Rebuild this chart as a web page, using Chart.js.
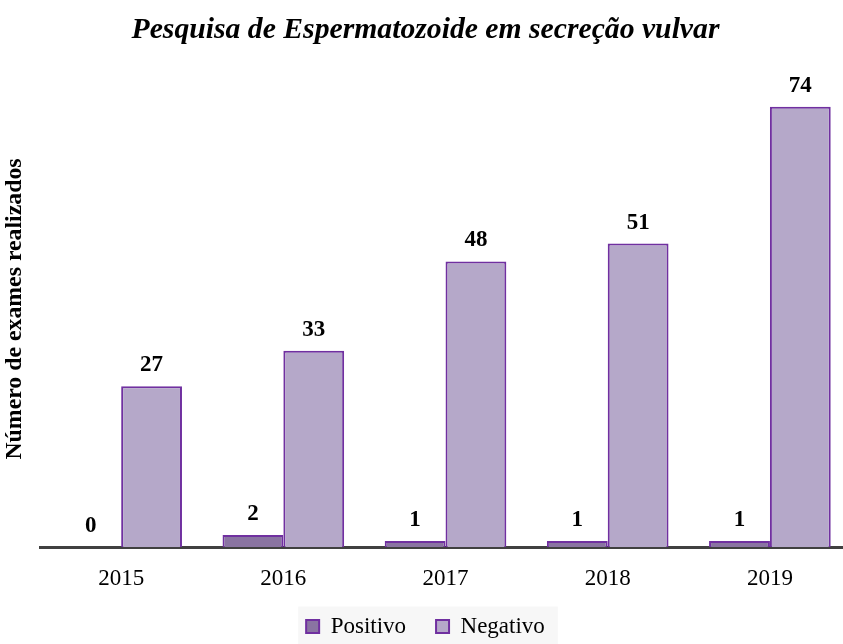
<!DOCTYPE html>
<html>
<head>
<meta charset="utf-8">
<script src="https://cdn.jsdelivr.net/npm/chart.js@4"></script>
<style>
html, body { margin: 0; padding: 0; overflow: hidden; background: #ffffff; width: 843px; height: 644px; }
#wrap { width: 856px; height: 644px; }
</style>
</head>
<body>
<div id="wrap"><canvas id="c" width="856" height="644"></canvas></div>
<script>
const categories = ['2015', '2016', '2017', '2018', '2019'];
const seriesNames = ['Positivo', 'Negativo'];
const positivo = [0, 2, 1, 1, 1];
const negativo = [27, 33, 48, 51, 74];
const titleText = 'Pesquisa de Espermatozoide em secreção vulvar';
const yTitleText = 'Número de exames realizados';

const SERIF = "'Liberation Serif', 'Times New Roman', serif";

const dataLabels = {
  id: 'dataLabels',
  afterDatasetsDraw(chart) {
    const ctx = chart.ctx;
    ctx.save();
    ctx.font = 'bold 23px ' + SERIF;
    ctx.fillStyle = '#000000';
    ctx.textAlign = 'center';
    ctx.textBaseline = 'middle';
    chart.data.datasets.forEach((ds, di) => {
      const meta = chart.getDatasetMeta(di);
      meta.data.forEach((el, i) => {
        ctx.fillText(String(ds.data[i]), el.x, el.y - 21);
      });
    });
    ctx.restore();
  }
};

const legendBg = {
  id: 'legendBg',
  beforeDraw(chart) {
    const lg = chart.legend;
    if (!lg || !lg.legendHitBoxes || !lg.legendHitBoxes.length) return;
    const boxes = lg.legendHitBoxes;
    let l = Infinity, r = -Infinity, t = Infinity;
    boxes.forEach(b => { l = Math.min(l, b.left); r = Math.max(r, b.left + b.width); t = Math.min(t, b.top); });
    const ctx = chart.ctx;
    ctx.save();
    ctx.fillStyle = '#f7f7f7';
    const top = t + 11.5 - 20;
    ctx.fillRect(l - 8, top, (r - l) + 21, chart.height - top);
    ctx.restore();
  }
};

new Chart(document.getElementById('c'), {
  type: 'bar',
  data: {
    labels: categories,
    datasets: [
      {
        label: seriesNames[0],
        data: positivo,
        backgroundColor: '#8a74a2',
        borderColor: '#7030a0',
        borderWidth: 2,
        categoryPercentage: 0.75,
        barPercentage: 1.0
      },
      {
        label: seriesNames[1],
        data: negativo,
        backgroundColor: '#b5a8c9',
        borderColor: '#7030a0',
        borderWidth: 2,
        categoryPercentage: 0.75,
        barPercentage: 1.0
      }
    ]
  },
  options: {
    responsive: false,
    animation: false,
    layout: { padding: { left: 0, right: 5, top: 0, bottom: -4 } },
    scales: {
      x: {
        grid: { display: false, drawTicks: false },
        border: { display: true, color: '#404040', width: 3 },
        ticks: { color: '#000000', font: { family: SERIF, size: 23 }, padding: 18 },
        afterFit(scale) { scale.height = 38; }
      },
      y: {
        min: 0,
        max: 80,
        grid: { display: false, drawTicks: false },
        border: { display: false },
        ticks: { display: false },
        title: {
          display: true,
          text: yTitleText,
          color: '#000000',
          font: { family: SERIF, size: 23.8, weight: 'bold' },
          padding: { top: 1, bottom: 10.5 }
        }
      }
    },
    plugins: {
      title: {
        display: true,
        text: titleText,
        color: '#000000',
        font: { family: SERIF, size: 29.7, weight: 'bold', style: 'italic' },
        padding: { top: 13, bottom: 22.4 }
      },
      legend: {
        position: 'bottom',
        labels: {
          color: '#000000',
          font: { family: SERIF, size: 23 },
          boxWidth: 13,
          boxHeight: 13,
          padding: 30
        }
      },
      tooltip: { enabled: false }
    }
  },
  plugins: [dataLabels, legendBg]
});
</script>
</body>
</html>
